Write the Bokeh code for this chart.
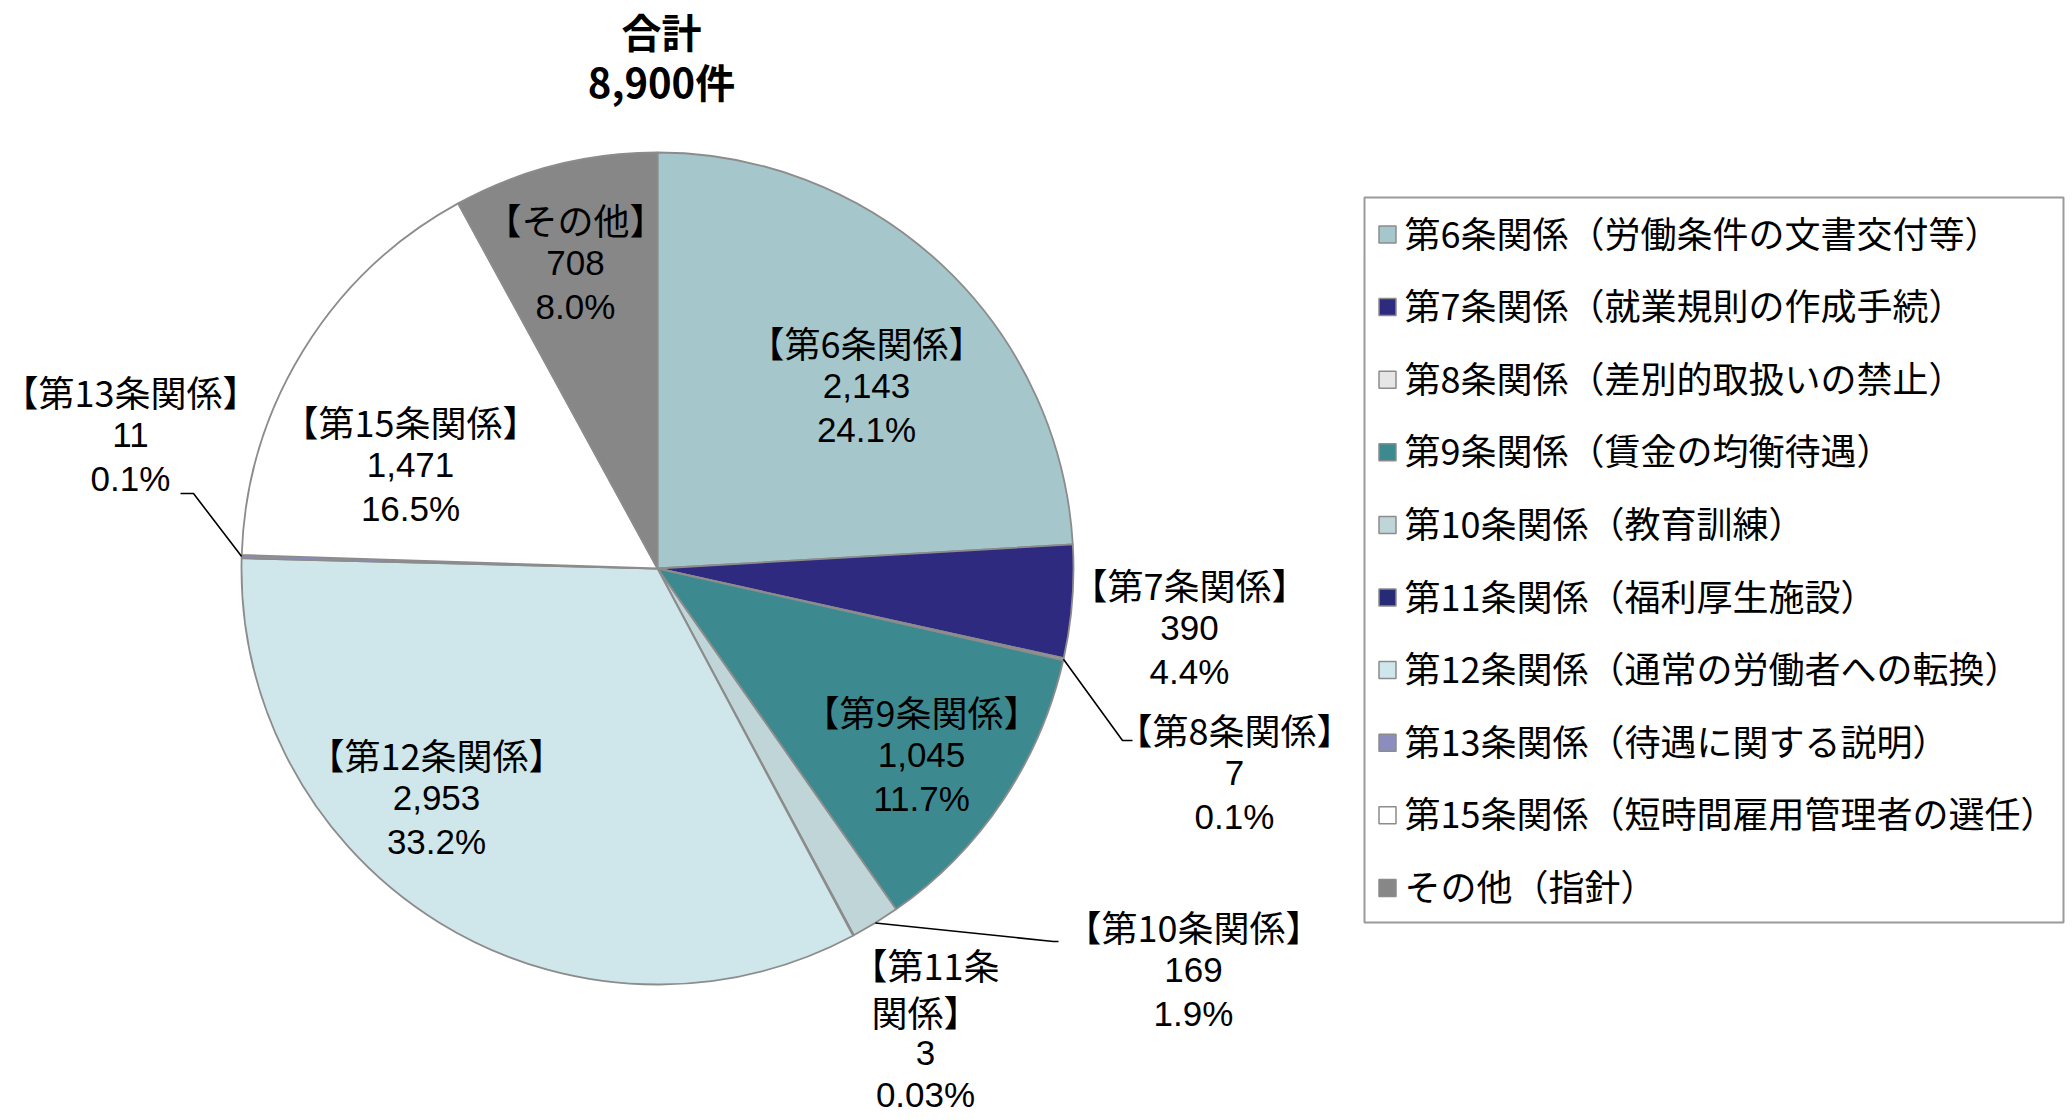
import math
from bokeh.plotting import figure
from bokeh.models import Range1d
from bokeh.core.properties import value
from bokeh.embed import file_html
from bokeh.resources import INLINE

# ---------------- data ----------------
short_names = ["第6条関係", "第7条関係", "第8条関係", "第9条関係", "第10条関係",
               "第11条関係", "第12条関係", "第13条関係", "第15条関係", "その他"]
legend_names = ["第6条関係（労働条件の文書交付等）",
                "第7条関係（就業規則の作成手続）",
                "第8条関係（差別的取扱いの禁止）",
                "第9条関係（賃金の均衡待遇）",
                "第10条関係（教育訓練）",
                "第11条関係（福利厚生施設）",
                "第12条関係（通常の労働者への転換）",
                "第13条関係（待遇に関する説明）",
                "第15条関係（短時間雇用管理者の選任）",
                "その他（指針）"]
counts = [2143, 390, 7, 1045, 169, 3, 2953, 11, 1471, 708]
percent_labels = ["24.1%", "4.4%", "0.1%", "11.7%", "1.9%", "0.03%", "33.2%", "0.1%", "16.5%", "8.0%"]
colors = ["#A5C6CA", "#2E2A80", "#E6E6E6", "#3C8A90", "#BFD5D8",
          "#252B75", "#CFE7EB", "#8C8CBF", "#FFFFFF", "#878787"]

# ---------------- layout ----------------
W, H = 2072, 1120
def X(xs):  # screen px -> data
    return xs
def Y(ys):
    return H - ys

JP = value("Noto Sans CJK JP")
NUM = value("Liberation Sans")

p = figure(width=W, height=H, output_backend="svg", toolbar_location=None,
           x_range=Range1d(0, W), y_range=Range1d(0, H), min_border=0)
p.axis.visible = False
p.grid.visible = False
p.outline_line_color = None
p.background_fill_color = "white"

cx, cy, R = X(657), Y(568), 416
total = sum(counts)
starts, ends, mids = [], [], []
acc = 0
for c in counts:
    a0 = math.pi / 2 - 2 * math.pi * acc / total
    acc += c
    a1 = math.pi / 2 - 2 * math.pi * acc / total
    starts.append(a0)
    ends.append(a1)
    mids.append((a0 + a1) / 2)

p.wedge(x=[cx] * len(counts), y=[cy] * len(counts), radius=R,
        start_angle=starts, end_angle=ends, direction="clock",
        fill_color=colors, line_color="#8C8C8C", line_width=1.8)

# title
p.text(x=[X(661)], y=[Y(30)], text=["合計"], text_font=JP, text_font_size=value("40px"),
       text_font_style="bold", text_align="center", text_baseline="middle", text_color="black")
p.text(x=[X(661)], y=[Y(80)], text=[f"{total:,}件"], text_font=JP, text_font_size=value("40px"),
       text_font_style="bold", text_align="center", text_baseline="middle", text_color="black")

# data labels (screen position of first line center)
label_pos = [(866, 341), (1189, 583), (1234, 728), (921, 710), (1193, 925),
             (925, 963), (436, 753), (130, 390), (410, 420), (575, 218)]
for i, name in enumerate(short_names):
    xs, ys = label_pos[i]
    LS = 44
    if name == "第11条関係":
        head = ["【第11条", "関係】"]
        LS = 42
    elif name == "その他":
        head = ["【その他】"]
    else:
        head = ["【" + name + "】"]
    for j, h in enumerate(head):
        p.text(x=[X(xs)], y=[Y(ys + j * 47)], text=[h], text_font=JP, text_font_size=value("36px"),
               text_align="center", text_baseline="middle", text_color="black")
    base = ys + (len(head) - 1) * 47
    p.text(x=[X(xs)], y=[Y(base + LS)], text=[f"{counts[i]:,}"], text_font=NUM,
           text_font_size=value("35px"), text_align="center", text_baseline="middle", text_color="black")
    p.text(x=[X(xs)], y=[Y(base + 2 * LS)], text=[percent_labels[i]], text_font=NUM,
           text_font_size=value("35px"), text_align="center", text_baseline="middle", text_color="black")

# leader lines: from slice edge to label elbows
leaders = {2: [(1122, 740), (1132, 740)], 4: [(1053, 941), (1058, 941)], 7: [(193, 493), (180, 493)]}
for i, pts in leaders.items():
    ex = cx + R * math.cos(mids[i])
    ey = cy + R * math.sin(mids[i])
    xs = [ex] + [X(a) for a, b in pts]
    ys = [ey] + [Y(b) for a, b in pts]
    p.line(xs, ys, line_color="black", line_width=1.6)

# legend box
lx0, lx1, ly0, ly1 = 1364, 2063, 197, 922
p.quad(left=[X(lx0)], right=[X(lx1)], top=[Y(ly0)], bottom=[Y(ly1)],
       fill_color="white", line_color="#9A9A9A", line_width=2)
row0, drow = 231, 72.6
for i, nm in enumerate(legend_names):
    yy = row0 + i * drow
    p.rect(x=[X(1387)], y=[Y(yy + 3)], width=17, height=17, fill_color=colors[i],
           line_color="#8C8C8C", line_width=1.5)
    p.text(x=[X(1404)], y=[Y(yy)], text=[nm], text_font=JP, text_font_size=value("36px"),
           text_align="left", text_baseline="middle", text_color="black")

open("out.html", "w").write(file_html(p, INLINE))
